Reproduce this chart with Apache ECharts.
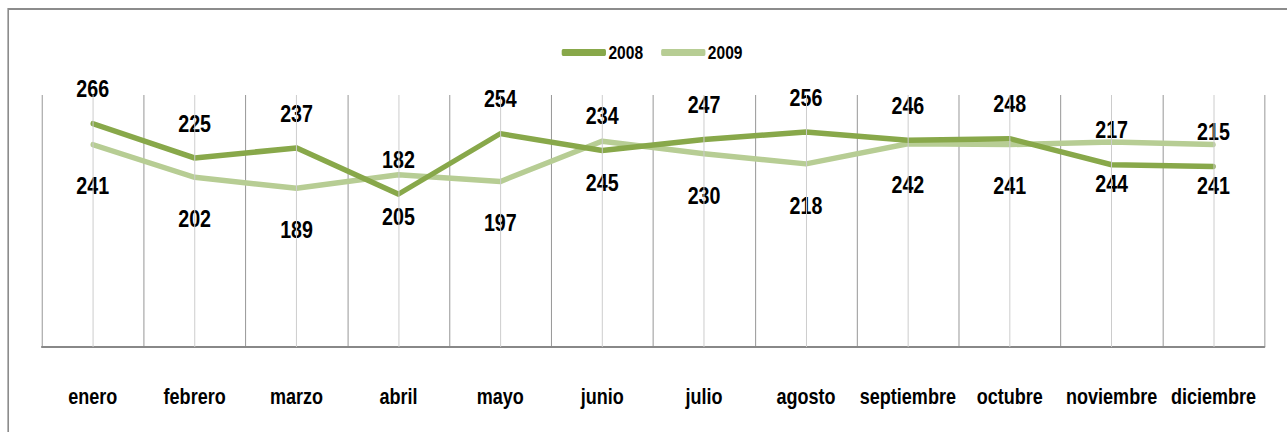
<!DOCTYPE html>
<html>
<head>
<meta charset="utf-8">
<script src="https://cdn.jsdelivr.net/npm/echarts@6/dist/echarts.min.js"></script>
<style>
html,body{margin:0;padding:0;background:#fff;overflow:hidden;}
#wrap{width:1287px;height:432px;overflow:hidden;position:relative;}
#c{width:1570px;height:432px;transform:scaleX(0.82);transform-origin:0 0;}
</style>
</head>
<body>
<div id="wrap"><div id="c"></div></div>
<script>
const categories = ['enero','febrero','marzo','abril','mayo','junio','julio','agosto','septiembre','octubre','noviembre','diciembre'];
const values2008 = [266,225,237,182,254,234,247,256,246,248,217,215];
const values2009 = [241,202,189,205,197,245,230,218,242,241,244,241];
const seriesNames = ['2008','2009'];

const FONT = "'Liberation Sans',Arial,sans-serif";
const dark = '#88a84a';
const light = '#b7cd94';

const chart = echarts.init(document.getElementById('c'), null, {renderer:'svg'});
chart.setOption({
  animation:false,
  backgroundColor:'#fff',
  graphic:[{
    type:'rect', shape:{x:10,y:9,width:1600,height:440},
    style:{fill:'none',stroke:'#8c8c8c',lineWidth:2}, z:-1, silent:true
  }],
  legend:{
    data:seriesNames, left:680, top:38, itemWidth:54, itemHeight:7, itemGap:22,
    icon:'roundRect',
    textStyle:{fontFamily:FONT,fontWeight:'bold',fontSize:19,color:'#000',padding:[0,0,0,-2]}
  },
  grid:{left:51,right:28,top:95,bottom:85},
  xAxis:{
    type:'category', data:categories, boundaryGap:true,
    axisLine:{lineStyle:{color:'#888',width:2}},
    axisTick:{show:false},
    splitLine:{show:true,lineStyle:{color:'#959595',width:1.2}},
    axisLabel:{fontFamily:FONT,fontWeight:'bold',fontSize:22,color:'#000',margin:38,interval:0}
  },
  yAxis:{type:'value',min:0,max:300,show:false,splitLine:{show:false}},
  series:[
    {
      name:'centers', type:'line', data:[], silent:true, z:1,
      markLine:{
        silent:true, symbol:['none','none'], label:{show:false},
        lineStyle:{color:'#cccccc',width:1.2,type:'solid'},
        data:categories.map(c=>({xAxis:c}))
      }
    },
    {
      name:seriesNames[0], type:'line', data:values2008, z:3,
      symbol:'circle', symbolSize:1, showSymbol:true,
      lineStyle:{color:dark,width:5.5,cap:'round',join:'round'},
      itemStyle:{color:dark},
      label:{show:true,position:'top',distance:22,fontFamily:FONT,fontWeight:'bold',fontSize:24,color:'#000'}
    },
    {
      name:seriesNames[1], type:'line', data:values2009, z:2,
      symbol:'circle', symbolSize:1, showSymbol:true,
      lineStyle:{color:light,width:5.5,cap:'round',join:'round'},
      itemStyle:{color:light},
      label:{show:true,position:'bottom',distance:29,fontFamily:FONT,fontWeight:'bold',fontSize:24,color:'#000'}
    }
  ]
});
</script>
</body>
</html>
